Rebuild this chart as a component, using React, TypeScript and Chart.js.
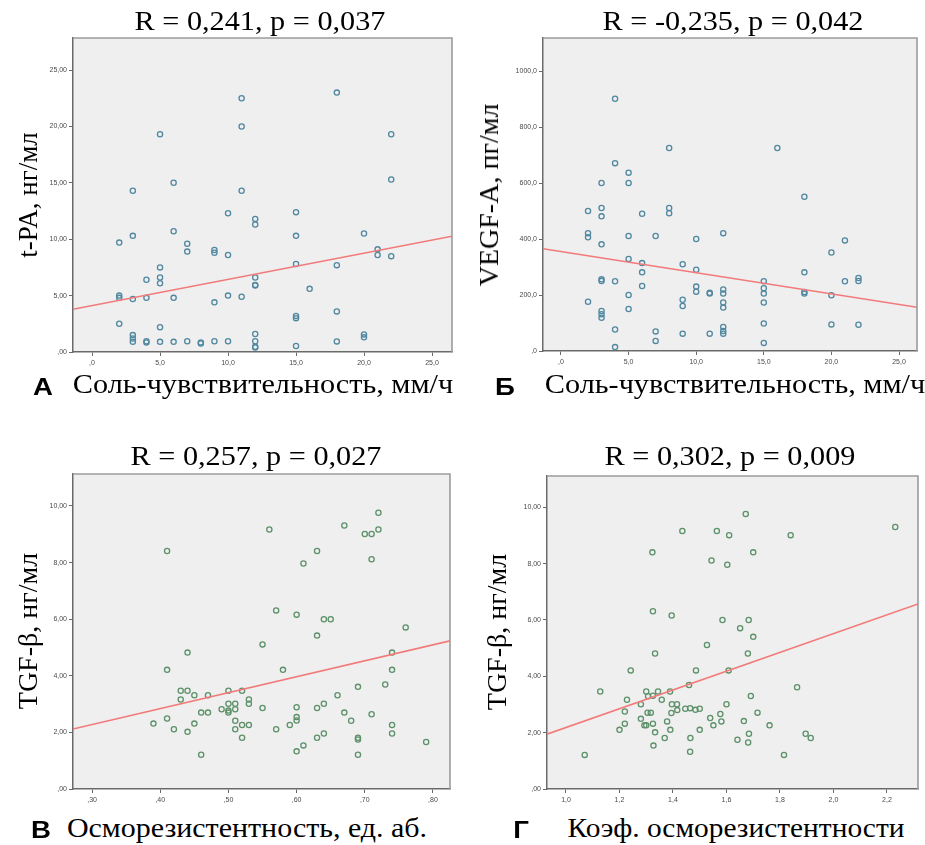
import React, { useEffect, useRef } from "react";
import { Chart, registerables } from "chart.js";
Chart.register(...registerables);

// ---------- Panel А: t-PA vs соль-чувствительность ----------
const A_X = [2,2,2,2, 3,3,3,3,3,3, 4,4,4,4, 5,5,5,5,5,5, 6,6,6,6, 7,7,7, 8,8, 9,9,9,9, 10,10,10,10, 11,11,11,11, 12,12,12,12,12,12,12,12,12, 15,15,15,15,15,15, 16, 18,18,18,18, 20,20,20, 21,21, 22,22,22];
const A_Y = [9.7,5.0,4.8,2.5, 14.3,10.3,4.7,1.5,1.2,0.9, 6.4,4.8,0.95,0.85, 19.3,7.5,6.6,6.1,2.2,0.9, 15.0,10.7,4.8,0.9, 9.6,8.9,0.95, 0.85,0.75, 9.05,8.8,4.4,0.95, 12.3,8.6,5.0,0.95, 22.5,20.0,14.3,4.9, 11.8,11.3,6.6,5.95,5.9,1.6,0.95,0.47,0.41, 12.4,10.3,7.8,3.2,3.0,0.53, 5.6, 23.0,7.7,3.6,0.94, 10.5,1.56,1.3, 9.1,8.6, 19.3,15.3,8.5];
const A_X_TICKS = [0, 5, 10, 15, 20, 25];
const A_Y_TICKS = [0, 5, 10, 15, 20, 25];
const A_X_RANGE = [-1.4, 26.47];
const A_Y_RANGE = [0, 27.84];
const A_FIT = [4.12, 0.232]; // intercept, slope

// ---------- Panel Б: VEGF-A vs соль-чувствительность ----------
const B_X = [2,2,2,2, 3,3,3,3,3,3,3,3,3, 4,4,4,4,4, 5,5,5,5,5,5, 6,6,6,6, 7,7,7, 8,8,8, 9,9,9,9, 10,10,10,10, 11,11,11, 12,12,12,12,12,12,12,12, 15,15,15,15,15,15, 16, 18,18,18,18, 20,20,20, 21,21, 22,22,22];
const B_Y = [500,421,406,176, 600,511,481,381,256,250,143,131,119, 901,671,249,77,14, 637,600,411,329,200,150, 490,314,281,232, 411,70,36, 725,511,492, 310,183,161,62, 400,290,230,212, 208,205,62, 421,220,205,173,155,86,71,62, 249,224,205,173,98,29, 725, 551,281,211,205, 352,199,95, 395,249, 261,250,94];
const B_X_TICKS = [0, 5, 10, 15, 20, 25];
const B_Y_TICKS = [0, 200, 400, 600, 800, 1000];
const B_X_RANGE = [-1.33, 26.33];
const B_Y_RANGE = [0, 1118];
const B_FIT = [355, -7.54];

// ---------- Panel В: TGF-β vs осморезистентность ----------
const C_X = [0.39,0.41,0.41,0.41,0.42,0.43,0.43,0.44,0.44,0.44,0.45,0.45,0.46,0.46,0.47,0.47,0.49,0.50,0.50,0.50,0.50,0.51,0.51,0.51,0.51,0.52,0.52,0.52,0.53,0.53,0.53,0.55,0.55,0.56,0.57,0.57,0.58,0.59,0.60,0.60,0.60,0.60,0.60,0.61,0.61,0.63,0.63,0.63,0.63,0.64,0.64,0.64,0.65,0.66,0.67,0.67,0.68,0.69,0.69,0.69,0.69,0.70,0.71,0.71,0.71,0.72,0.72,0.73,0.74,0.74,0.74,0.74,0.76,0.79];
const C_Y = [2.31,8.41,4.21,2.49,2.11,3.47,3.16,4.82,3.47,2.02,3.31,2.31,2.70,1.21,3.31,2.70,2.82,3.47,3.01,2.77,2.70,3.01,2.82,2.41,2.11,3.47,2.26,1.81,3.16,3.01,2.26,5.11,2.86,9.17,6.31,2.11,4.21,2.26,6.16,2.89,2.54,2.42,1.33,7.97,1.54,8.41,5.42,2.86,1.81,6.0,3.01,1.96,6.0,3.31,9.31,2.70,2.41,3.61,1.81,1.75,1.21,9.01,9.01,8.12,2.64,9.76,9.17,3.69,4.82,4.21,2.26,1.96,5.71,1.66];
const C_X_TICKS = [0.3, 0.4, 0.5, 0.6, 0.7, 0.8];
const C_Y_TICKS = [0, 2, 4, 6, 8, 10];
const C_X_RANGE = [0.272, 0.825];
const C_Y_RANGE = [0, 11.13];
const C_FIT = [0.588, 5.63];

// ---------- Panel Г: TGF-β vs коэф. осморезистентности ----------
const D_X = [1.07,1.128,1.20,1.22,1.22,1.228,1.242,1.28,1.28,1.293,1.30,1.30,1.307,1.305,1.317,1.323,1.325,1.325,1.325,1.327,1.333,1.333,1.344,1.358,1.369,1.378,1.389,1.39,1.394,1.395,1.396,1.415,1.416,1.435,1.446,1.46,1.464,1.465,1.464,1.484,1.486,1.50,1.50,1.527,1.539,1.544,1.551,1.564,1.577,1.581,1.585,1.60,1.603,1.608,1.61,1.672,1.84,2.231,1.70,1.683,1.651,1.70,1.68,1.864,1.691,1.716,1.665,1.761,1.684,1.896,1.915,1.641,1.681,1.815];
const D_Y = [1.21,3.46,2.10,2.32,2.75,3.17,4.21,3.01,2.49,2.26,2.26,3.46,3.29,2.71,2.71,8.40,6.31,2.32,3.31,1.54,4.81,2.01,3.46,3.17,1.81,2.40,3.46,2.10,2.70,6.16,3.01,3.01,2.80,9.16,2.85,3.69,2.87,1.81,1.32,2.81,4.21,2.85,2.10,5.11,2.52,8.11,2.26,9.16,2.66,2.40,6.00,3.01,7.96,4.21,9.01,9.76,9.01,9.30,8.40,6.00,5.71,5.40,4.81,3.61,3.30,2.71,2.41,2.26,1.96,1.96,1.81,1.75,1.65,1.21];
const D_X_TICKS = [1.0, 1.2, 1.4, 1.6, 1.8, 2.0, 2.2];
const D_Y_TICKS = [0, 2, 4, 6, 8, 10];
const D_X_RANGE = [0.929, 2.316];
const D_Y_RANGE = [0, 11.11];
const D_FIT = [-1.146, 3.33];

const SERIF = '"Liberation Serif", "Times New Roman", serif';
const SANS = '"Liberation Sans", Arial, sans-serif';

const fmtDec = (digits: number, stripInt: boolean) => (v: number) => {
  const s = Number(v).toFixed(digits).replace(".", ",");
  if (stripInt && s.startsWith("0,")) return s.slice(1);
  return s;
};

const YW = 50; // y-axis block width
const XH = 22; // x-axis block height
const PT = 10;
const PR = 12;

const boxPlugin = {
  id: "boxbg",
  beforeDraw(chart: any) {
    const { ctx, chartArea } = chart;
    const { left, top, right, bottom } = chartArea;
    ctx.save();
    ctx.fillStyle = "#efefef";
    ctx.fillRect(left, top, right - left, bottom - top);
    ctx.restore();
  },
  afterDraw(chart: any) {
    const { ctx, chartArea } = chart;
    const { left, top, right, bottom } = chartArea;
    ctx.save();
    ctx.strokeStyle = "#9c9c9c";
    ctx.lineWidth = 1.6;
    ctx.beginPath();
    ctx.moveTo(left, top);
    ctx.lineTo(right, top);
    ctx.lineTo(right, bottom);
    ctx.stroke();
    ctx.restore();
  },
};

type PanelProps = {
  box: number[];
  xs: number[];
  ys: number[];
  xRange: number[];
  yRange: number[];
  xTicks: number[];
  yTicks: number[];
  fmtX: (v: number) => string;
  fmtY: (v: number) => string;
  fit: number[];
  color: string;
};

function Panel(p: PanelProps) {
  const ref = useRef<HTMLCanvasElement>(null);
  const [L, T, R, B] = p.box;
  const width = R - L + YW + PR;
  const height = B - T + PT + XH;
  useEffect(() => {
    const pts = p.xs.map((x, i) => ({ x, y: p.ys[i] }));
    const fitPts = [p.xRange[0], p.xRange[1]].map((x) => ({ x, y: p.fit[0] + p.fit[1] * x }));
    const axisCommon = {
      type: "linear",
      grid: { drawOnChartArea: false, drawTicks: true, tickLength: 4, color: "#6a6a6a", lineWidth: 1 },
      border: { display: true, color: "#6a6a6a", width: 1.5 },
    };
    const chart = new Chart(ref.current as HTMLCanvasElement, {
      type: "scatter",
      data: {
        datasets: [
          {
            type: "line",
            data: fitPts,
            borderColor: "#f27a7a",
            borderWidth: 1.6,
            pointRadius: 0,
            fill: false,
          } as any,
          {
            data: pts,
            pointStyle: "circle",
            pointRadius: 2.6,
            borderWidth: 1.3,
            borderColor: p.color,
            backgroundColor: "rgba(0,0,0,0)",
          },
        ],
      },
      options: {
        animation: false,
        responsive: false,
        events: [],
        layout: { padding: { top: PT, right: PR, left: 0, bottom: 0 } },
        plugins: { legend: { display: false }, tooltip: { enabled: false } },
        scales: {
          x: {
            ...axisCommon,
            min: p.xRange[0],
            max: p.xRange[1],
            afterBuildTicks: (s: any) => {
              s.ticks = p.xTicks.map((v) => ({ value: v }));
            },
            afterFit: (s: any) => {
              s.height = XH;
            },
            ticks: {
              autoSkip: false,
              maxRotation: 0,
              padding: 3,
              color: "#4a4a4a",
              font: { size: 7, family: SANS },
              callback: (v: any) => p.fmtX(Number(v)),
            },
          },
          y: {
            ...axisCommon,
            min: p.yRange[0],
            max: p.yRange[1],
            afterBuildTicks: (s: any) => {
              s.ticks = p.yTicks.map((v) => ({ value: v }));
            },
            afterFit: (s: any) => {
              s.width = YW;
            },
            ticks: {
              autoSkip: false,
              padding: 2,
              color: "#4a4a4a",
              font: { size: 7, family: SANS },
              callback: (v: any) => p.fmtY(Number(v)),
            },
          },
        } as any,
      },
      plugins: [boxPlugin],
    } as any);
    return () => chart.destroy();
  }, []);
  return (
    <canvas
      ref={ref}
      width={width}
      height={height}
      style={{ position: "absolute", left: L - YW, top: T - PT, width, height }}
    />
  );
}

function Txt(props: { x: number; y: number; text: string; size: number; rot?: boolean; bold?: boolean; sans?: boolean; sx?: number }) {
  const sx = props.sx ?? 1;
  return (
    <div
      style={{
        position: "absolute",
        left: props.x,
        top: props.y,
        transform: `translate(-50%, -50%)${props.rot ? " rotate(-90deg)" : ""} scaleX(${sx})`,
        whiteSpace: "nowrap",
        lineHeight: 1,
        fontSize: props.size,
        fontFamily: props.sans ? SANS : SERIF,
        fontWeight: props.bold ? 700 : 400,
        color: "#000",
      }}
    >
      {props.text}
    </div>
  );
}

export default function App() {
  const teal = "#5188a0";
  const green = "#5c9169";
  const HS = 1.08;
  return (
    <div style={{ position: "absolute", left: 0, top: 0, width: 925, height: 845, background: "#fff", overflow: "hidden" }}>
      <Panel box={[73, 38, 452, 352]} xs={A_X} ys={A_Y} xRange={A_X_RANGE} yRange={A_Y_RANGE} xTicks={A_X_TICKS} yTicks={A_Y_TICKS} fmtX={fmtDec(1, true)} fmtY={fmtDec(2, true)} fit={A_FIT} color={teal} />
      <Panel box={[543, 38, 917, 351]} xs={B_X} ys={B_Y} xRange={B_X_RANGE} yRange={B_Y_RANGE} xTicks={B_X_TICKS} yTicks={B_Y_TICKS} fmtX={fmtDec(1, true)} fmtY={fmtDec(1, true)} fit={B_FIT} color={teal} />
      <Panel box={[73, 474, 450, 789]} xs={C_X} ys={C_Y} xRange={C_X_RANGE} yRange={C_Y_RANGE} xTicks={C_X_TICKS} yTicks={C_Y_TICKS} fmtX={fmtDec(2, true)} fmtY={fmtDec(2, true)} fit={C_FIT} color={green} />
      <Panel box={[547, 476, 918, 789]} xs={D_X} ys={D_Y} xRange={D_X_RANGE} yRange={D_Y_RANGE} xTicks={D_X_TICKS} yTicks={D_Y_TICKS} fmtX={fmtDec(1, false)} fmtY={fmtDec(2, true)} fit={D_FIT} color={green} />

      <Txt x={260} y={21} size={28} sx={HS} text="R = 0,241, p = 0,037" />
      <Txt x={733} y={21} size={28} sx={HS} text="R = -0,235, p = 0,042" />
      <Txt x={256} y={456} size={28} sx={HS} text="R = 0,257, p = 0,027" />
      <Txt x={730} y={456} size={28} sx={HS} text="R = 0,302, p = 0,009" />

      <Txt x={28} y={195} size={27} rot text="t-PA, нг/мл" />
      <Txt x={489} y={195} size={28} rot text="VEGF-A, пг/мл" />
      <Txt x={28} y={631} size={28} rot text="TGF-β, нг/мл" />
      <Txt x={497} y={632} size={28} rot text="TGF-β, нг/мл" />

      <Txt x={263} y={384} size={28} sx={HS} text="Соль-чувствительность, мм/ч" />
      <Txt x={735} y={384} size={28} sx={HS} text="Соль-чувствительность, мм/ч" />
      <Txt x={247} y={828} size={28} sx={1.07} text="Осморезистентность, ед. аб." />
      <Txt x={736} y={828} size={28} sx={1.05} text="Коэф. осморезистентности" />

      <Txt x={43} y={387} size={24} bold sans sx={1.15} text="А" />
      <Txt x={505} y={387} size={24} bold sans sx={1.15} text="Б" />
      <Txt x={41} y={830} size={24} bold sans sx={1.15} text="В" />
      <Txt x={521} y={830} size={24} bold sans sx={1.15} text="Г" />
    </div>
  );
}
